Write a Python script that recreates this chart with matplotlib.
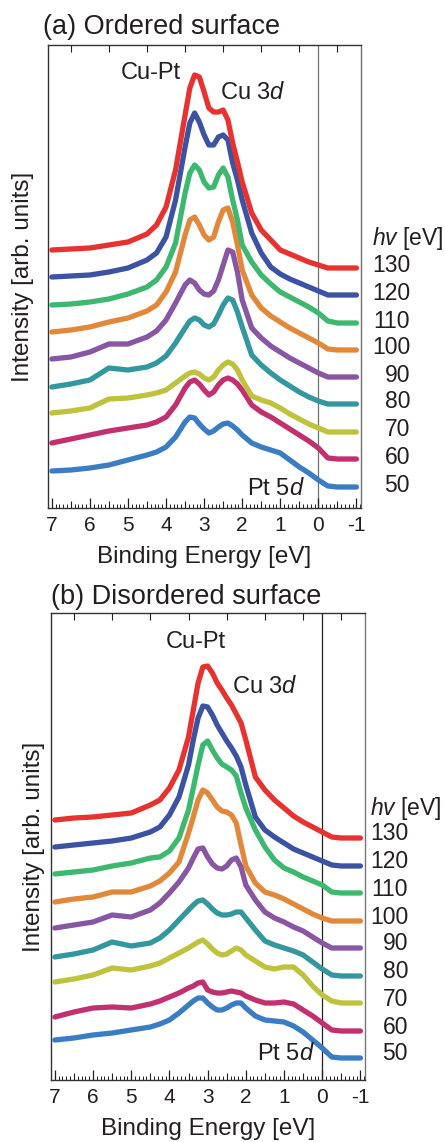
import matplotlib
matplotlib.use("Agg")
import matplotlib.pyplot as plt
import matplotlib.transforms as mtransforms
from matplotlib.ticker import MultipleLocator, FixedLocator, NullFormatter
import numpy as np

plt.rcParams['font.family'] = ['Liberation Sans', 'DejaVu Sans']
plt.rcParams['mathtext.fontset'] = 'custom'
plt.rcParams['mathtext.rm'] = 'Liberation Sans'
plt.rcParams['mathtext.it'] = 'Liberation Sans:italic'

# ---------------- data ----------------
energy = [7.0, 6.5, 6.0, 5.5, 5.0, 4.5, 4.25, 4.0, 3.75, 3.5, 3.375, 3.25, 3.125,
          3.0, 2.875, 2.75, 2.625, 2.5, 2.375, 2.25, 2.125, 2.0, 1.75, 1.5, 1.25,
          1.0, 0.75, 0.5, 0.25, 0.0, -0.25, -0.5, -1.0]

photon_energies = [130, 120, 110, 100, 90, 80, 70, 60, 50]
colors = ['#e8322f', '#3c52a3', '#3cb86f', '#e2883a', '#8856a3',
          '#33979f', '#bec23d', '#c2306f', '#3a7dc4']

tick_values = [7, 6, 5, 4, 3, 2, 1, 0, -1]
tick_labels = ['7', '6', '5', '4', '3', '2', '1', '0', '-1']

# (a) ordered surface
ord_130 = [18, 19, 20, 23, 26, 34, 43, 61, 98, 153, 180, 193, 191, 176, 160, 156, 156, 158, 148, 125, 106, 86, 55, 38, 28, 18, 14, 10, 6, 3, 0, 0, 0]
ord_120 = [18, 19, 20, 23, 27, 35, 42, 58, 95, 148, 172, 182, 173, 160, 150, 150, 158, 160, 155, 132, 115, 95, 62, 42, 28, 21, 16, 12, 8, 4, 0, 0, 0]
ord_110 = [18, 19, 21, 24, 29, 36, 43, 56, 80, 130, 150, 158, 153, 141, 135, 136, 148, 155, 146, 123, 103, 78, 61, 48, 39, 31, 26, 21, 16, 10, 2, 0, 0]
ord_100 = [18, 20, 23, 28, 32, 39, 45, 58, 78, 115, 130, 133, 125, 115, 110, 113, 128, 140, 142, 128, 105, 80, 55, 42, 34, 28, 22, 17, 12, 7, 1, 0, 0]
ord_90 = [18, 20, 25, 33, 33, 40, 46, 57, 74, 92, 97, 94, 87, 83, 82, 86, 97, 112, 127, 125, 105, 77, 49, 39, 31, 25, 19, 14, 9, 4, 0, 0, 0]
ord_80 = [17, 20, 24, 36, 34, 37, 41, 48, 61, 76, 83, 86, 84, 79, 77, 80, 89, 99, 106, 104, 92, 77, 49, 39, 31, 24, 18, 12, 7, 3, 0, 0, 0]
ord_70 = [19, 21, 24, 33, 34, 37, 39, 42, 49, 56, 59, 60, 58, 54, 52, 55, 62, 67, 70, 68, 62, 52, 36, 32, 29, 24, 18, 13, 8, 4, 0, 0, 0]
ord_60 = [16, 20, 24, 28, 31, 34, 37, 42, 54, 71, 77, 79, 75, 69, 64, 67, 74, 79, 81, 79, 75, 69, 54, 47, 42, 36, 30, 24, 18, 11, 1, 0, 0]
ord_50 = [16, 17, 19, 22, 27, 32, 35, 40, 50, 65, 70, 69, 63, 58, 54, 56, 60, 63, 64, 61, 57, 52, 44, 40, 37, 34, 27, 20, 14, 7, 1, 0, 0]
ord_offsets = [240, 213, 185, 158, 131, 104, 76, 49, 21]

# (b) disordered surface
dis_130 = [18, 20, 21, 23, 25, 33, 38, 50, 68, 101, 128, 155, 171, 172, 165, 155, 148, 140, 133, 124, 115, 98, 61, 48, 38, 30, 22, 16, 11, 6, 1, 0, 0]
dis_120 = [19, 21, 23, 25, 28, 34, 39, 51, 69, 101, 126, 148, 160, 159, 151, 141, 133, 125, 118, 110, 99, 81, 49, 36, 29, 23, 17, 13, 9, 5, 1, 0, 0]
dis_110 = [19, 21, 23, 27, 30, 35, 36, 42, 55, 83, 105, 128, 148, 152, 143, 135, 129, 126, 123, 117, 100, 85, 63, 46, 33, 25, 21, 16, 12, 8, 1, 0, 0]
dis_100 = [19, 22, 24, 29, 29, 35, 40, 48, 59, 88, 104, 121, 131, 128, 121, 114, 110, 109, 106, 98, 76, 55, 38, 29, 26, 22, 17, 12, 7, 3, 0, 0, 0]
dis_90 = [20, 23, 26, 33, 31, 38, 45, 55, 66, 80, 90, 99, 100, 91, 84, 80, 79, 82, 88, 90, 81, 63, 48, 36, 30, 26, 21, 17, 11, 5, 0, 0, 0]
dis_80 = [19, 22, 26, 34, 30, 33, 38, 46, 56, 66, 71, 75, 76, 72, 67, 63, 61, 61, 62, 64, 64, 58, 46, 35, 31, 28, 25, 21, 14, 7, 1, 0, 0]
dis_70 = [21, 24, 28, 35, 33, 37, 40, 45, 50, 55, 58, 61, 63, 59, 54, 50, 48, 49, 52, 55, 53, 48, 42, 36, 34, 36, 36, 28, 17, 8, 2, 0, 0]
dis_60 = [14, 19, 23, 24, 23, 27, 30, 34, 38, 43, 45, 48, 49, 41, 39, 38, 38, 39, 40, 39, 38, 35, 31, 28, 28, 29, 27, 21, 15, 8, 1, 0, 0]
dis_50 = [18, 20, 23, 25, 28, 31, 34, 38, 45, 53, 57, 60, 60, 55, 51, 48, 48, 50, 53, 55, 55, 50, 42, 38, 37, 36, 32, 26, 18, 10, 1, 0, 0]
dis_offsets = [242, 214, 187, 159, 132, 104, 77, 49, 22]

ordered = [ord_130, ord_120, ord_110, ord_100, ord_90, ord_80, ord_70, ord_60, ord_50]
disordered = [dis_130, dis_120, dis_110, dis_100, dis_90, dis_80, dis_70, dis_60, dis_50]

# ---------------- figure ----------------
W, H = 445, 1142
fig = plt.figure(figsize=(W / 100, H / 100), dpi=100)
TXT = '#231f20'


def px_axes(left, right, top, bottom):
    return fig.add_axes([left / W, 1 - bottom / H, (right - left) / W, (bottom - top) / H])


def setup(ax, ymax, zero_color, frame_right):
    ax.set_xlim(7.1, -1.12)
    ax.set_ylim(0, ymax)
    ax.xaxis.set_major_locator(FixedLocator(tick_values))
    ax.set_xticklabels(tick_labels)
    ax.xaxis.set_minor_locator(MultipleLocator(0.1))
    ax.tick_params(axis='x', which='both', direction='in', top=True, bottom=True,
                   labelsize=15, pad=6, colors=TXT)
    ax.tick_params(axis='x', which='major', length=7, width=0.9)
    ax.tick_params(axis='x', which='minor', length=3.1, width=0.7)
    ax.tick_params(axis='y', left=False, right=False, labelleft=False)
    for s in ax.spines.values():
        s.set_linewidth(1.0)
        s.set_color('#333333')
    ax.spines['right'].set_color(frame_right)
    ax.axvline(0, color=zero_color, lw=0.9, zorder=1)
    # medium ticks at the half-integer positions
    tw = ax.twiny()
    tw.set_xlim(ax.get_xlim())
    tw.xaxis.set_major_locator(FixedLocator([6.5, 5.5, 4.5, 3.5, 2.5, 1.5, 0.5, -0.5]))
    tw.xaxis.set_major_formatter(NullFormatter())
    tw.tick_params(axis='x', which='major', direction='in', top=True, bottom=True,
                   labeltop=False, labelbottom=False, length=4.8, width=0.8, colors=TXT)
    tw.tick_params(axis='y', left=False, right=False, labelleft=False)
    for s in tw.spines.values():
        s.set_visible(False)


def draw(ax, spectra, offsets):
    for spec, off, c in zip(spectra[::-1], offsets[::-1], colors[::-1]):
        y = np.asarray(spec, dtype=float) + off
        ax.plot(energy, y, color=c, lw=3.8, solid_capstyle='round',
                solid_joinstyle='round', zorder=3)


# panel (a)
axa = px_axes(48, 361, 45, 508)
setup(axa, 463, '#707070', '#707070')
draw(axa, ordered, ord_offsets)
# panel (b)
axb = px_axes(51, 365, 613, 1080)
setup(axb, 467, '#222222', '#777777')
draw(axb, disordered, dis_offsets)

fig.text(43 / W, 1 - 27 / H, '(a) Ordered surface', fontsize=19.5, ha='left', va='center', color=TXT)
fig.text(51 / W, 1 - 597 / H, '(b) Disordered surface', fontsize=19.5, ha='left', va='center', color=TXT)

for ax, axl, axr, top, bottom, ylab_x, offs, lab_x, lab_dy, hv_x, hv_y, annot in [
    (axa, 48, 361, 45, 508, 23, ord_offsets, 410, 2, 372, 270,
     [('Cu-Pt', 4.39, 435, 'center'), ('Cu 3$\\mathit{d}$', 2.58, 415, 'left'), ('Pt 5$\\mathit{d}$', 0.35, 19, 'right')]),
    (axb, 51, 365, 613, 1080, 34, dis_offsets, 408, 4, 370, 272,
     [('Cu-Pt', 3.31, 438, 'center'), ('Cu 3$\\mathit{d}$', 2.37, 393, 'left'), ('Pt 5$\\mathit{d}$', 0.19, 26, 'right')]),
]:
    w = axr - axl
    h = bottom - top
    ax.set_xlabel('Binding Energy [eV]', fontsize=17.5, color=TXT)
    ax.xaxis.set_label_coords(0.5, -49 / h)
    ax.xaxis.label.set_va('center')
    ax.set_ylabel('Intensity [arb. units]', fontsize=17.5, color=TXT)
    ax.yaxis.set_label_coords((ylab_x - axl) / w, 0.5)
    ax.yaxis.label.set_va('center')
    trans = mtransforms.blended_transform_factory(ax.transAxes, ax.transData)
    for hv, off in zip(photon_energies, offs):
        ax.text((lab_x - axl) / w, off + lab_dy, str(hv), transform=trans, ha='right', va='center',
                fontsize=16.5, color=TXT, clip_on=False)
    ax.text((hv_x - axl) / w, hv_y, '$\\mathit{hv}$ [eV]', transform=trans, ha='left', va='center',
            fontsize=16.5, color=TXT, clip_on=False)
    for txt, ex, ey, ha in annot:
        ax.text(ex, ey, txt, ha=ha, va='center', fontsize=17, color=TXT, zorder=5)

fig.savefig('out.png', dpi=100)
